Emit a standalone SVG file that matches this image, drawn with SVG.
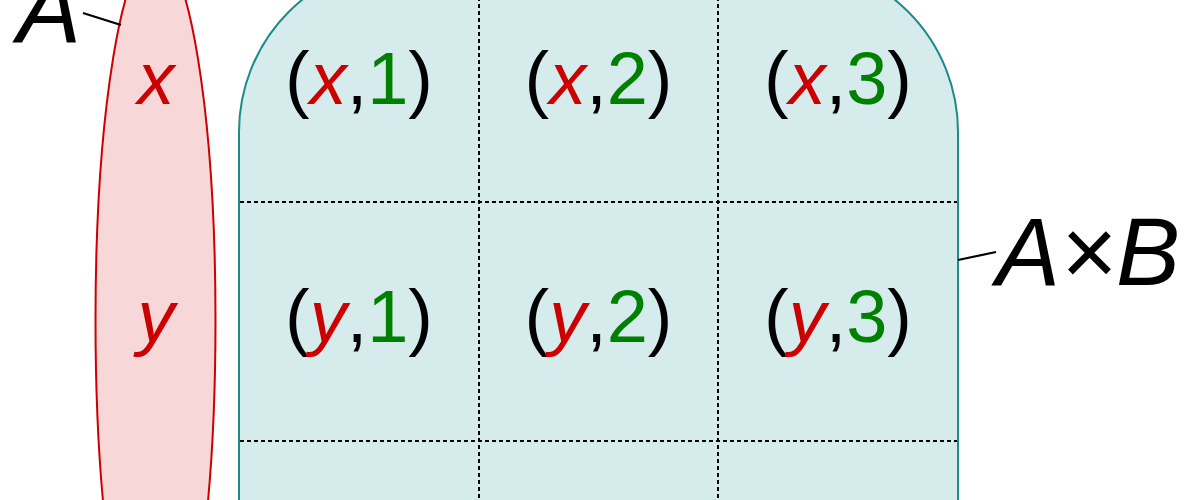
<svg xmlns="http://www.w3.org/2000/svg" width="1200" height="500" viewBox="0 0 1200 500">
<style>
.t{font-family:"Liberation Sans",Arial,sans-serif;font-size:74px;fill:#000;text-anchor:middle}
.big{font-family:"Liberation Sans",Arial,sans-serif;font-size:96px;font-style:italic;fill:#000}
.r{fill:#cc0000;font-style:italic}
.g{fill:#008000}
.grid{stroke:#000;stroke-width:2;stroke-dasharray:4,3;fill:none}
.lead{stroke:#000;stroke-width:2.2;fill:none}
</style>
<rect width="1200" height="500" fill="#fff"/>
<g id="setA">
<ellipse cx="155.5" cy="320" rx="60" ry="370" fill="#f7d7d7" stroke="#cc0000" stroke-width="2"/>
<text class="t" x="156" y="104"><tspan class="r">x</tspan></text>
<text class="t" x="156" y="342"><tspan class="r">y</tspan></text>
</g>
<g id="product">
<path d="M239,700 V132 A170,170 0 0 1 409,-38 H788 A170,170 0 0 1 958,132 V700 Z" fill="#d6ecec" stroke="#1f8a8a" stroke-width="2"/>
<path class="grid" d="M479,-38 V700 M718,-38 V700 M240,202 H957 M240,441 H957"/>
<text class="t" x="359" y="104">(<tspan class="r">x</tspan>,<tspan class="g">1</tspan>)</text>
<text class="t" x="598.5" y="104">(<tspan class="r">x</tspan>,<tspan class="g">2</tspan>)</text>
<text class="t" x="838" y="104">(<tspan class="r">x</tspan>,<tspan class="g">3</tspan>)</text>
<text class="t" x="359" y="342">(<tspan class="r">y</tspan>,<tspan class="g">1</tspan>)</text>
<text class="t" x="598.5" y="342">(<tspan class="r">y</tspan>,<tspan class="g">2</tspan>)</text>
<text class="t" x="838" y="342">(<tspan class="r">y</tspan>,<tspan class="g">3</tspan>)</text>
</g>
<g id="connectors">
<line class="lead" x1="83" y1="13" x2="121" y2="25"/>
<line class="lead" x1="958" y1="260" x2="996" y2="252"/>
</g>
<g id="labels">
<text class="big" x="17" y="42">A</text>
<text class="big" x="996" y="285">A×B</text>
</g>
</svg>
